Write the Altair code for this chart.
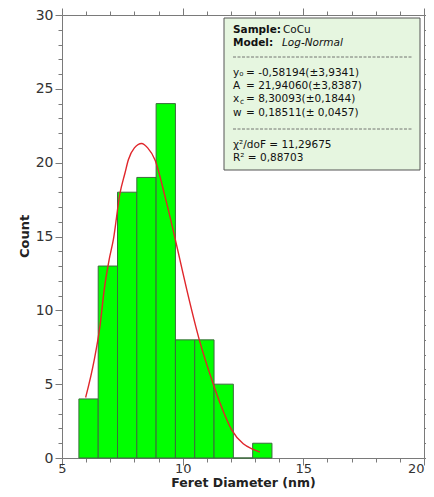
import altair as alt
import pandas as pd

# ---- data ----
bin_start = [5.7, 6.5, 7.3, 8.1, 8.9, 9.7, 10.5, 11.3, 12.1, 12.9]
bin_end = [6.5, 7.3, 8.1, 8.9, 9.7, 10.5, 11.3, 12.1, 12.9, 13.7]
counts = [4, 13, 18, 19, 24, 8, 8, 5, 0, 1]

fit_x = [5.98, 6.33, 6.57, 6.75, 6.95, 7.13, 7.40, 7.61, 7.75, 8.0, 8.30, 8.55,
         8.85, 9.27, 9.61, 9.89, 10.17, 10.69, 11.27, 11.6, 12.03, 12.51, 12.9, 13.2]
fit_y = [4.1, 6.6, 8.9, 11.4, 13.4, 14.8, 17.9, 19.3, 20.2, 21.0, 21.3, 21.0,
         20.2, 17.7, 15.4, 13.4, 11.4, 8.0, 5.0, 3.5, 1.9, 0.96, 0.6, 0.4]

x_ticks = list(range(5, 21))
y_ticks = list(range(0, 31))

bars_df = pd.DataFrame({"start": bin_start, "end": bin_end, "count": counts})
fit_df = pd.DataFrame({"x": fit_x, "y": fit_y})
dummy = pd.DataFrame({"a": [0]})

FONT = "DejaVu Sans"
AX = "#7a7a7a"
xscale = alt.Scale(domain=[5, 20], nice=False, zero=False)
yscale = alt.Scale(domain=[0, 30], nice=False)

major5 = {"condition": {"test": "datum.value % 5 === 0", "value": 7}, "value": 4}


def axis(orient, title=None, labels=True, vals=None, lsize=14):
    kw = dict(
        orient=orient, values=vals, grid=False, domainColor=AX, tickColor=AX,
        tickSize=major5, labelFont=FONT, labelFontSize=lsize, labelColor="#333333",
        labelExpr="datum.value % 5 === 0 ? datum.label : ''", labelOverlap=False,
        labelFlush=False, labels=labels, title=title,
    )
    if title:
        kw.update(titleFont=FONT, titleFontSize=13, titleFontWeight="bold", titleColor="#222222")
    return alt.Axis(**kw)


x_bottom = axis("bottom", "Feret Diameter (nm)", True, x_ticks, lsize=13)
x_bottom.titleY = 24.8
x_bottom.titleFontSize = 12.5
x_bottom.titleBaseline = "middle"
x_bottom.labelPadding = -3
x_bottom.labelAlign = {"condition": {"test": "datum.value === 20", "value": "right"}, "value": "center"}
y_left = axis("left", "Count", True, y_ticks)
y_left.titleX = -38
y_left.titleY = 221
y_left.titleBaseline = "middle"
y_left.titleAngle = 270
y_left.labelPadding = 2

bars = alt.Chart(bars_df).mark_bar(fill="#00ff00", stroke="#3d6b3d", strokeWidth=1).encode(
    x=alt.X("start:Q", scale=xscale, axis=x_bottom),
    x2="end:Q",
    y=alt.Y("count:Q", scale=yscale, axis=y_left),
    y2=alt.datum(0),
)

curve = alt.Chart(fit_df).mark_line(color="#e0262b", strokeWidth=1.4, interpolate="monotone").encode(
    x=alt.X("x:Q", scale=xscale, axis=axis("top", None, False, x_ticks)),
    y=alt.Y("y:Q", scale=yscale, axis=axis("right", None, False, y_ticks)),
)

# ---- annotation box (plot-relative pixels) ----
ox, oy = 62, 15  # plot origin on the page
box = alt.Chart(dummy).mark_rect(fill="#e6f6e0", stroke="#555555", strokeWidth=1).encode(
    x=alt.value(224 - ox), x2=alt.value(420 - ox), y=alt.value(18 - oy), y2=alt.value(170 - oy)
)

FS = 10.5


def txt(s, x, y, size=FS, weight="normal", style="normal", color="#111111"):
    return alt.Chart(dummy).mark_text(
        text=s, font=FONT, fontSize=size, fontWeight=weight, fontStyle=style,
        align="left", baseline="middle", color=color,
    ).encode(x=alt.value(x - ox), y=alt.value(y - oy))


def dash(y):
    return alt.Chart(dummy).mark_rule(color="#555555", strokeWidth=0.8, strokeDash=[3, 1.5]).encode(
        x=alt.value(233 - ox), x2=alt.value(412 - ox), y=alt.value(y - oy)
    )


xr = 246
ann = [
    box,
    txt("Sample:", 233, 30, weight="bold"),
    txt("CoCu", 283, 30),
    txt("Model:", 233, 43, weight="bold"),
    txt("Log-Normal", 282, 43, style="italic"),
    dash(57),
    txt("y₀", 233, 73),
    txt("= -0,58194(±3,9341)", xr, 73),
    txt("A", 233, 86),
    txt("= 21,94060(±3,8387)", xr, 86),
    txt("x", 233, 99),
    txt("c", 240, 102, size=7.5),
    txt("= 8,30093(±0,1844)", xr, 99),
    txt("w", 233, 113),
    txt("= 0,18511(± 0,0457)", xr, 113),
    dash(129),
    txt("χ²/doF = 11,29675", 233, 145),
    txt("R² = 0,88703", 233, 158),
]

chart = alt.layer(bars, curve, *ann).resolve_axis(x="independent", y="independent").properties(
    width=362, height=443,
    autosize=alt.AutoSizeParams(type="none"),
    padding={"left": 54, "top": 7, "right": 2, "bottom": 31},
    background="white",
).configure_view(stroke=None)

chart.save("out.html", embed_options={"renderer": "svg", "actions": False})
